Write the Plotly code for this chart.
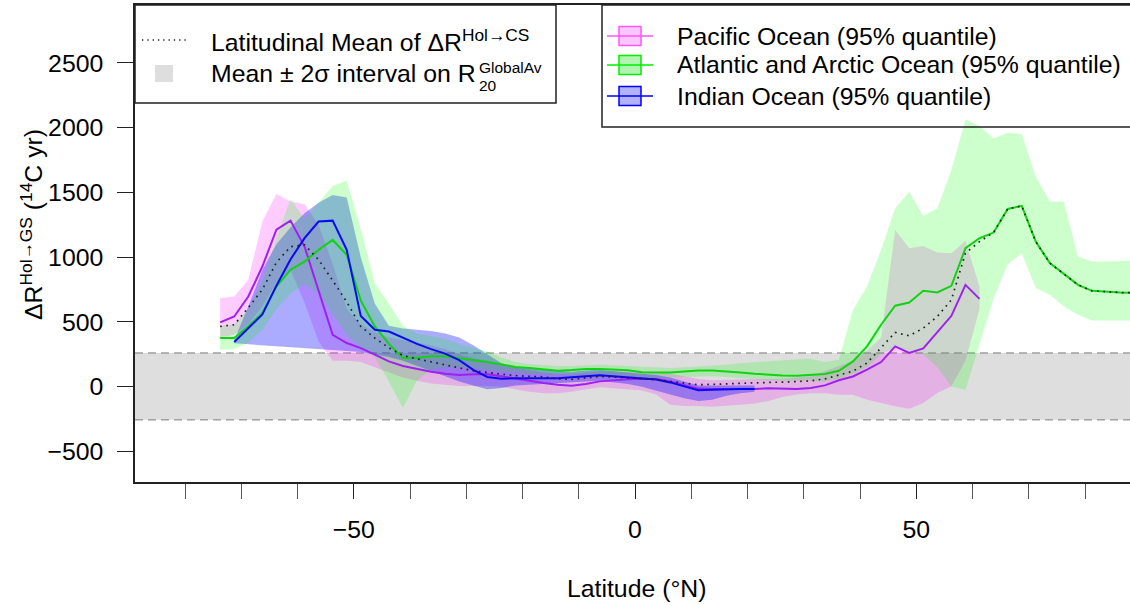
import plotly.graph_objects as go

# ---------------- data ----------------
LAT = [-73.75, -71.25, -68.75, -66.25, -63.75, -61.25, -58.75, -56.25, -53.75, -51.25,
       -48.75, -46.25, -43.75, -41.25, -38.75, -36.25, -33.75, -31.25, -28.75, -26.25,
       -23.75, -21.25, -18.75, -16.25, -13.75, -11.25, -8.75, -6.25, -3.75, -1.25,
       1.25, 3.75, 6.25, 8.75, 11.25, 13.75, 16.25, 18.75, 21.25, 23.75,
       26.25, 28.75, 31.25, 33.75, 36.25, 38.75, 41.25, 43.75, 46.25, 48.75,
       51.25, 53.75, 56.25, 58.75, 61.25, 63.75, 66.25, 68.75, 71.25, 73.75,
       76.25, 78.75, 81.25, 83.75, 86.25, 88.75]

pac_lat = LAT[0:55]
pac_mean = [496, 542, 696, 928, 1212, 1282, 1082, 748, 401, 337,
            298, 247, 195, 160, 135, 115, 100, 90, 95, 95,
            80, 60, 45, 28, 15, 8, 21, 41, 50, 58,
            62, 59, 41, 15, -15, -18, -18, -18, -18, -12,
            -15, -18, -10, 10, 50, 79, 131, 190, 311, 260,
            295, 419, 547, 786, 678]
pac_hi = [684, 696, 825, 1275, 1488, 1429, 1411, 1250, 950, 600,
          480, 420, 380, 360, 340, 320, 290, 250, 220, 200,
          170, 150, 130, 110, 100, 100, 110, 120, 120, 120,
          120, 115, 100, 80, 60, 50, 50, 55, 60, 60,
          60, 70, 80, 120, 160, 200, 280, 380, 1210, 1069,
          1087, 1036, 1031, 1126, 773]
pac_lo = [380, 400, 480, 620, 800, 900, 650, 350, 200, 200,
          190, 150, 110, 70, 45, 25, 15, 5, 3, 5,
          0, -20, -40, -50, -50, -40, -20, -5, -10, -20,
          -30, -60, -140, -150, -150, -155, -150, -140, -130, -110,
          -80, -60, -50, -50, -62, -62, -100, -126, -152, -170,
          -126, -49, 3, 200, 600]

atl_lat = LAT
atl_mean = [375, 375, 465, 568, 773, 902, 966, 1056, 1133, 1018,
            665, 465, 330, 221, 221, 234, 234, 221, 208, 190,
            172, 152, 144, 131, 123, 128, 136, 136, 130, 126,
            112, 110, 110, 118, 124, 124, 118, 110, 100, 92,
            86, 85, 90, 98, 123, 195, 311, 478, 625, 650,
            740, 727, 779, 1069, 1146, 1190, 1372, 1396, 1120, 954,
            871, 786, 740, 732, 727, 725]
atl_hi = [470, 480, 600, 820, 1150, 1450, 1300, 1420, 1550, 1590,
          1220, 800, 640, 470, 410, 390, 370, 330, 300, 272,
          225, 190, 175, 165, 160, 160, 165, 170, 165, 160,
          150, 145, 145, 150, 155, 160, 170, 180, 190, 200,
          205, 210, 215, 190, 208, 594, 773, 1056, 1378, 1506,
          1318, 1378, 1673, 2064, 2012, 1917, 1961, 1951, 1622, 1429,
          1429, 1005, 966, 966, 970, 974]
atl_lo = [285, 290, 340, 440, 600, 720, 790, 720, 560, 400,
          300, 230, 40, -165, 50, 130, 150, 150, 145, 130,
          120, 110, 100, 95, 90, 90, 95, 95, 90, 85,
          75, 70, 70, 75, 80, 80, 75, 70, 60, 50,
          45, 45, 45, 40, 60, 100, 150, 250, 300, 270,
          250, 150, 3, -23, 337, 680, 941, 1031, 761, 709,
          619, 555, 511, 511, 511, 511]

ind_lat = LAT[1:39]
ind_mean = [345, 450, 558, 780, 982, 1147, 1275, 1282, 1056, 545,
            439, 426, 375, 330, 290, 255, 205, 130, 75, 62,
            65, 67, 66, 65, 70, 80, 88, 80, 73, 65,
            55, 33, 5, -28, -23, -18, -18, -18]
ind_hi = [360, 620, 900, 1100, 1230, 1340, 1420, 1480, 1460, 1000,
          640, 470, 450, 440, 430, 410, 380, 320, 250, 180,
          150, 140, 130, 120, 115, 125, 130, 120, 110, 100,
          90, 70, 40, 10, 10, 10, 10, 10]
ind_lo = [335, 330, 322, 315, 308, 300, 292, 284, 276, 268,
          250, 230, 200, 160, 120, 80, 40, 10, -20, -10,
          10, 20, 25, 30, 35, 40, 45, 35, 20, 0,
          -30, -60, -90, -110, -100, -70, -50, -40]

lat_mean = [465, 478, 610, 750, 960, 1080, 1095, 980, 820, 655,
            465, 375, 300, 240, 215, 192, 170, 145, 122, 110,
            95, 85, 80, 76, 60, 56, 68, 78, 75, 70,
            65, 55, 40, 25, 15, 18, 22, 28, 33, 33,
            35, 38, 45, 60, 90, 120, 183, 298, 419, 393,
            452, 542, 671, 1031, 1120, 1190, 1372, 1396, 1120, 954,
            871, 786, 740, 732, 727, 725]

sigma_band = [-255, 260]   # Mean +/- 2 sigma on R20 GlobalAv

y_ticks = [-500, 0, 500, 1000, 1500, 2000, 2500]
x_ticks = [-50, 0, 50]

# ---------------- style ----------------
FONT = "Liberation Sans, Arial, Helvetica, sans-serif"
FS = 24.8
PAC_LINE, PAC_FILL = "#A020F0", "rgba(255,0,255,0.2)"
ATL_LINE, ATL_FILL = "#12D312", "rgba(0,255,0,0.2)"
IND_LINE, IND_FILL = "#0a0af0", "rgba(0,0,255,0.33)"

W, H = 1130, 605
L, R, T, B = 135, 0, 5, 123
PW, PH = W - L - R, H - T - B


def px(x):
    return (x - L) / PW


def py(y):
    return (H - B - y) / PH


fig = go.Figure()


def band(lat, lo, hi, fill):
    fig.add_trace(go.Scatter(x=list(lat) + list(lat)[::-1], y=list(hi) + list(lo)[::-1],
                             fill="toself", fillcolor=fill, line=dict(width=0),
                             mode="lines", hoverinfo="skip", showlegend=False))


band(pac_lat, pac_lo, pac_hi, PAC_FILL)
band(ind_lat, ind_lo, ind_hi, IND_FILL)
band(atl_lat, atl_lo, atl_hi, ATL_FILL)

for lat, m, c in [(pac_lat, pac_mean, PAC_LINE), (atl_lat, atl_mean, ATL_LINE),
                  (ind_lat, ind_mean, IND_LINE)]:
    fig.add_trace(go.Scatter(x=lat, y=m, mode="lines", line=dict(color=c, width=2),
                             showlegend=False))

fig.add_trace(go.Scatter(x=LAT, y=lat_mean, mode="lines",
                         line=dict(color="#222", width=1.7, dash="1.7px,4.5px"),
                         showlegend=False))

shapes = [
    dict(type="rect", xref="paper", yref="y", x0=0, x1=1, y0=sigma_band[0], y1=sigma_band[1],
         fillcolor="#dedede", line=dict(width=0), layer="below"),
    dict(type="line", xref="paper", yref="y", x0=0, x1=1, y0=sigma_band[0], y1=sigma_band[0],
         line=dict(color="#a0a0a0", width=1.6, dash="8px,5px"), layer="below"),
    dict(type="line", xref="paper", yref="y", x0=0, x1=1, y0=sigma_band[1], y1=sigma_band[1],
         line=dict(color="#a0a0a0", width=1.6, dash="8px,5px"), layer="below"),
    # legend 1 box
    dict(type="rect", xref="paper", yref="paper", x0=px(135), x1=px(556), y0=py(103), y1=py(5),
         line=dict(color="#222", width=1.5), fillcolor="rgba(0,0,0,0)"),
    dict(type="line", xref="paper", yref="paper", x0=px(142), x1=px(186), y0=py(40), y1=py(40),
         line=dict(color="#222", width=1.3, dash="1.3px,4px")),
    dict(type="rect", xref="paper", yref="paper", x0=px(155), x1=px(173), y0=py(82), y1=py(65),
         fillcolor="#dedede", line=dict(width=0)),
    # legend 2 box
    dict(type="rect", xref="paper", yref="paper", x0=px(602), x1=px(1140), y0=py(127), y1=py(5),
         line=dict(color="#222", width=1.5), fillcolor="rgba(0,0,0,0)"),
]

leg2 = [("Pacific Ocean (95% quantile)", 36, "#ff55ff", "rgba(255,0,255,0.22)"),
        ("Atlantic and Arctic Ocean (95% quantile)", 65, "#00ee00", "rgba(0,220,0,0.3)"),
        ("Indian Ocean (95% quantile)", 96, "#0000ff", "rgba(0,0,255,0.3)")]
annotations = []
for txt, yc, lc, fc in leg2:
    shapes.append(dict(type="rect", xref="paper", yref="paper", x0=px(619), x1=px(641),
                       y0=py(yc + 9.5), y1=py(yc - 9.5), fillcolor=fc, line=dict(color=lc, width=1.5)))
    shapes.append(dict(type="line", xref="paper", yref="paper", x0=px(607), x1=px(653),
                       y0=py(yc), y1=py(yc), line=dict(color=lc, width=1.5)))
    annotations.append(dict(text=txt, xref="paper", yref="paper", x=px(675), y=py(yc),
                            xanchor="left", yanchor="middle", showarrow=False,
                            font=dict(size=FS, color="black", family=FONT)))

annotations += [
    dict(text="Latitudinal Mean of ΔR<sup>Hol→CS</sup>", xref="paper", yref="paper",
         x=px(209), y=py(41), xanchor="left", yanchor="middle", showarrow=False,
         font=dict(size=FS, color="black", family=FONT)),
    dict(text="Mean ± 2σ interval on R", xref="paper", yref="paper",
         x=px(209), y=py(74), xanchor="left", yanchor="middle", showarrow=False,
         font=dict(size=FS, color="black", family=FONT)),
    dict(text="GlobalAv", xref="paper", yref="paper",
         x=px(477), y=py(67), xanchor="left", yanchor="middle", showarrow=False,
         font=dict(size=15.5, color="black", family=FONT)),
    dict(text="20", xref="paper", yref="paper",
         x=px(477), y=py(86), xanchor="left", yanchor="middle", showarrow=False,
         font=dict(size=15.5, color="black", family=FONT)),
    dict(text="Latitude (°N)", xref="paper", yref="paper",
         x=px(636), y=py(588), xanchor="center", yanchor="middle", showarrow=False,
         font=dict(size=FS, color="black", family=FONT)),
    dict(text="ΔR<sup>Hol→GS</sup> (<sup>14</sup>C yr)", xref="paper", yref="paper",
         x=px(31), y=py(225), xanchor="center", yanchor="middle", showarrow=False,
         textangle=-90, font=dict(size=FS, color="black", family=FONT)),
]

fig.update_layout(
    width=W, height=H, margin=dict(l=L, r=R, t=T, b=B, pad=0),
    paper_bgcolor="white", plot_bgcolor="white",
    font=dict(family=FONT, size=FS, color="black"),
    shapes=shapes, annotations=annotations, showlegend=False,
    xaxis=dict(range=[(L - 635) / 5.625, (W - R - 635) / 5.625], tickvals=x_ticks,
               ticks="outside", ticklen=15, tickwidth=1.3, tickcolor="#222",
               showline=True, linecolor="#222", linewidth=1.5, mirror=True,
               showgrid=False, zeroline=False, ticklabelstandoff=9,
               minor=dict(dtick=10, tick0=0, ticks="outside", ticklen=15, tickwidth=0.8,
                          tickcolor="#555", showgrid=False),
               tickfont=dict(size=FS, family=FONT, color="black")),
    yaxis=dict(range=[-736, 2947], tickvals=y_ticks, ticks="outside", ticklen=16,
               tickwidth=1.3, tickcolor="#222", showline=True, linecolor="#222",
               linewidth=1.5, showgrid=False, zeroline=False, ticklabelstandoff=9,
               tickfont=dict(size=FS, family=FONT, color="black")),
)

fig.write_html("out.html")
